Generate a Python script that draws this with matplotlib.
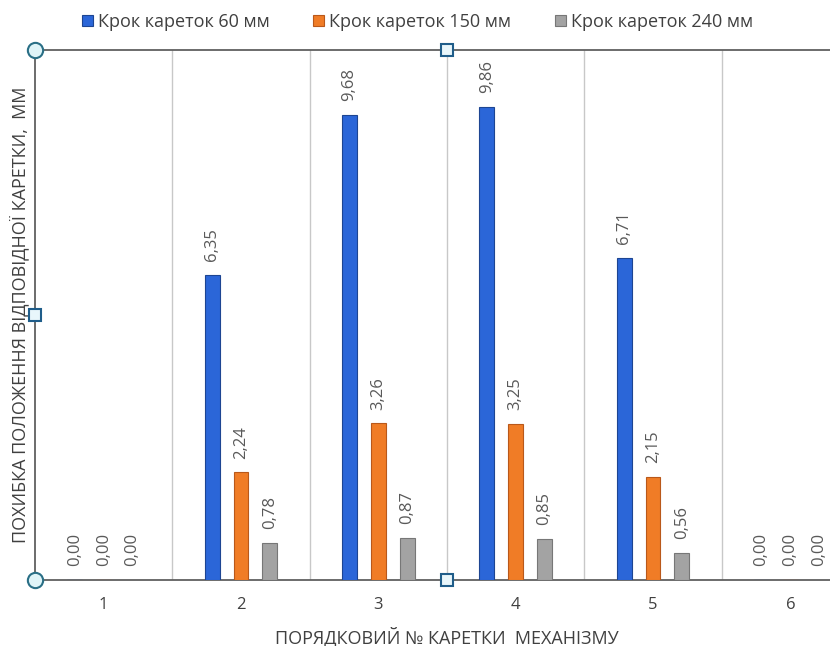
import numpy as np
import matplotlib
matplotlib.use('Agg')
import matplotlib.pyplot as plt

plt.rcParams['font.family'] = ['Open Sans', 'DejaVu Sans']

categories = ['1', '2', '3', '4', '5', '6']
series_names = ['Крок кареток 60 мм', 'Крок кареток 150 мм', 'Крок кареток 240 мм']
step_60 = [0.00, 6.35, 9.68, 9.86, 6.71, 0.00]
step_150 = [0.00, 2.24, 3.26, 3.25, 2.15, 0.00]
step_240 = [0.00, 0.78, 0.87, 0.85, 0.56, 0.00]

colors = ['#2b66d8', '#f07c26', '#a3a3a3']
edges = ['#1d4592', '#b9581a', '#777777']
label_color = '#595959'

fig = plt.figure(figsize=(8.3, 6.46), dpi=100)
# plot area runs past the right edge of the figure
ax = fig.add_axes([35 / 830, 1 - 580 / 646, 824 / 830, 530 / 646])

x = np.arange(1, len(categories) + 1)
width = 0.108
offsets = [-0.21, 0.0, 0.21]
for vals, off, c, ec, name in zip([step_60, step_150, step_240], offsets, colors, edges, series_names):
    bars = ax.bar(x + off, vals, width, color=c, edgecolor=ec, linewidth=0.8, label=name, zorder=3)
    for b, v in zip(bars, vals):
        ax.annotate(f'{v:.2f}'.replace('.', ','), (b.get_x() + b.get_width() / 2, v),
                    xytext=(0, 10), textcoords='offset points',
                    rotation=90, ha='center', va='bottom', fontsize=12, color=label_color)

ax.set_xlim(0.5, 6.5)
ax.set_ylim(0, 11.04)
ax.set_yticks([])
ax.set_xticks(x)
ax.set_xticklabels(categories, fontsize=12, color='#404040')
ax.tick_params(axis='x', length=0, pad=12)

# vertical separators between categories
for b in np.arange(1.5, 6.5, 1):
    ax.axvline(b, color='#c8c8c8', linewidth=1, zorder=1)

for side in ['top', 'left', 'bottom']:
    ax.spines[side].set_color('#606060')
    ax.spines[side].set_linewidth(1.3)
ax.spines['right'].set_visible(False)

ax.set_xlabel('ПОРЯДКОВИЙ № КАРЕТКИ  МЕХАНІЗМУ', fontsize=13, color='#404040', labelpad=10)
ax.set_ylabel('ПОХИБКА ПОЛОЖЕННЯ ВІДПОВІДНОЇ КАРЕТКИ,  ММ', fontsize=13, color='#404040', labelpad=4)

# selection handles on the plot area frame
handle_kw = dict(transform=ax.transAxes, clip_on=False, zorder=6, linestyle='none')
ax.plot([0, 0], [0, 1], marker='o', markersize=11, markerfacecolor='#dff4f8',
        markeredgecolor='#2a6f86', markeredgewidth=1.5, **handle_kw)
sq_x = (447 - 35) / 824
ax.plot([sq_x, sq_x, 0], [0, 1, 0.5], marker='s', markersize=8, markerfacecolor='#e8f6fb',
        markeredgecolor='#1f5d8a', markeredgewidth=1.5, **handle_kw)

fig.legend(loc='upper center', bbox_to_anchor=(0.503, 1.005), ncol=3, frameon=False,
           fontsize=13, handlelength=0.6, handleheight=0.6, handletextpad=0.3,
           columnspacing=2.4, labelcolor='#404040')

fig.savefig('out.png', dpi=100)
